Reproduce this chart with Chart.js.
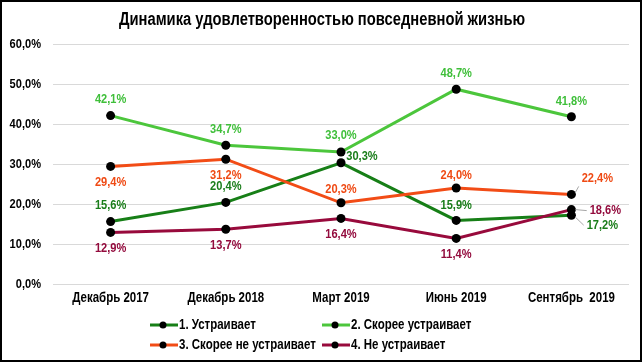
<!DOCTYPE html>
<html>
<head>
<meta charset="utf-8">
<script src="https://cdn.jsdelivr.net/npm/chart.js@4.4.1/dist/chart.umd.min.js"></script>
<style>
  html, body { margin: 0; padding: 0; background: #fff; }
  #wrap { position: relative; width: 644px; height: 364px; }
  #frame { position: absolute; left: 0; top: 0; width: 642px; height: 362px;
           border: 2px solid #000; box-sizing: border-box; pointer-events: none; }
</style>
</head>
<body>
<div id="wrap">
  <canvas id="satChart" width="644" height="364"></canvas>
  <div id="frame"></div>
</div>
<script>
// Arial Narrow look: Liberation Sans squeezed horizontally
const FONT = "'Liberation Sans', Arial, sans-serif";
const NARROW = 0.82;

const titleText = "Динамика удовлетворенностью повседневной жизнью";
const periods = ["Декабрь 2017", "Декабрь 2018", "Март 2019", "Июнь 2019", "Сентябрь  2019"];

const seriesNames = ["1. Устраивает", "2. Скорее устраивает", "3. Скорее не устраивает", "4. Не устраивает"];
const satisfied = [15.6, 20.4, 30.3, 15.9, 17.2];
const ratherSatisfied = [42.1, 34.7, 33.0, 48.7, 41.8];
const ratherNotSatisfied = [29.4, 31.2, 20.3, 24.0, 22.4];
const notSatisfied = [12.9, 13.7, 16.4, 11.4, 18.6];

const yTicks = [0, 10, 20, 30, 40, 50, 60];

const lineColors = ["#177f17", "#4cc63c", "#f24c16", "#980a3c"];
const labelColors = ["#1a7d1a", "#3fbf3a", "#ef4a14", "#930b3d"];

// label placement relative to the point: [dx, dy, leader]
const labelPlacement = [
  [[0, -16], [0, -16], [21, -7], [0, -15], [31, 10, true]],
  [[0, -16], [0, -16], [0, -17], [0, -16], [0, -16]],
  [[0, 16], [0, 16], [0, -14], [0, -13], [26, -16, true]],
  [[0, 16], [0, 16], [0, 16], [0, 16], [34, 1, true]]
];

function fmt(v) {
  return v.toFixed(1).replace(".", ",") + "%";
}

function narrowText(ctx, txt, x, y, size, color, align) {
  ctx.save();
  ctx.font = "bold " + size + "px " + FONT;
  ctx.fillStyle = color;
  ctx.textAlign = align || "center";
  ctx.textBaseline = "middle";
  ctx.translate(x, y);
  ctx.scale(NARROW, 1);
  ctx.fillText(txt, 0, 0);
  ctx.restore();
}

function narrowWidth(ctx, txt, size) {
  ctx.save();
  ctx.font = "bold " + size + "px " + FONT;
  const w = ctx.measureText(txt).width * NARROW;
  ctx.restore();
  return w;
}

const textLayer = {
  id: "textLayer",
  afterDraw(chart) {
    const ctx = chart.ctx;
    const xs = chart.scales.x;
    const ys = chart.scales.y;

    narrowText(ctx, titleText, 322, 20, 18, "#000");

    yTicks.forEach(v => {
      narrowText(ctx, fmt(v), ys.right - 12, ys.getPixelForValue(v), 13.5, "#000", "right");
    });
    periods.forEach((p, i) => {
      narrowText(ctx, p, xs.getPixelForTick(i), ys.bottom + 14, 14, "#000");
    });

    // data labels
    chart.data.datasets.forEach((ds, si) => {
      const meta = chart.getDatasetMeta(si);
      meta.data.forEach((pt, i) => {
        const pl = labelPlacement[si][i];
        const x = pt.x + pl[0];
        const y = pt.y + pl[1];
        const txt = fmt(ds.data[i]);
        if (pl[2]) {
          const w = narrowWidth(ctx, txt, 13.5);
          ctx.save();
          ctx.strokeStyle = "#a6a6a6";
          ctx.lineWidth = 1;
          ctx.beginPath();
          ctx.moveTo(pt.x + 4, pt.y + (pl[1] > 3 ? 2 : pl[1] < -3 ? -2 : 0));
          ctx.lineTo(x - w / 2 - 3, y + (pl[1] < -3 ? 8 : 0));
          ctx.stroke();
          ctx.restore();
        }
        narrowText(ctx, txt, x, y, 13.5, labelColors[si]);
      });
    });

    // legend
    const cols = [150, 322];
    const rows = [325, 345];
    chart.data.datasets.forEach((ds, i) => {
      const x = cols[i % 2];
      const y = rows[Math.floor(i / 2)];
      ctx.save();
      ctx.strokeStyle = ds.borderColor;
      ctx.lineWidth = 3;
      ctx.beginPath();
      ctx.moveTo(x, y);
      ctx.lineTo(x + 28, y);
      ctx.stroke();
      ctx.fillStyle = "#000";
      ctx.beginPath();
      ctx.arc(x + 13, y, 3.5, 0, Math.PI * 2);
      ctx.fill();
      ctx.restore();
      narrowText(ctx, ds.label, x + 29, y, 14, "#000", "left");
    });
  }
};

const allSeries = [satisfied, ratherSatisfied, ratherNotSatisfied, notSatisfied];

const datasets = allSeries.map((vals, i) => ({
  label: seriesNames[i],
  data: vals,
  borderColor: lineColors[i],
  backgroundColor: lineColors[i],
  borderWidth: 3,
  pointRadius: 4.5,
  pointBackgroundColor: "#000",
  pointBorderColor: "#000",
  pointBorderWidth: 0,
  tension: 0,
  order: 4 - i
}));

new Chart(document.getElementById("satChart"), {
  type: "line",
  data: { labels: periods, datasets },
  plugins: [textLayer],
  options: {
    responsive: false,
    devicePixelRatio: 1,
    animation: false,
    layout: { padding: { left: 0, right: 15, top: 44, bottom: 0 } },
    plugins: {
      legend: { display: false },
      tooltip: { enabled: false },
      title: { display: false }
    },
    scales: {
      x: {
        offset: true,
        grid: { display: false, drawTicks: false },
        border: { display: false },
        ticks: { display: false },
        afterFit(s) { s.height = 80; }
      },
      y: {
        min: 0,
        max: 60,
        afterBuildTicks(s) { s.ticks = yTicks.map(v => ({ value: v })); },
        grid: { color: "#d9d9d9", lineWidth: 1, drawTicks: false },
        border: { display: false },
        ticks: { display: false },
        afterFit(s) { s.width = 53; }
      }
    }
  }
});
</script>
</body>
</html>
